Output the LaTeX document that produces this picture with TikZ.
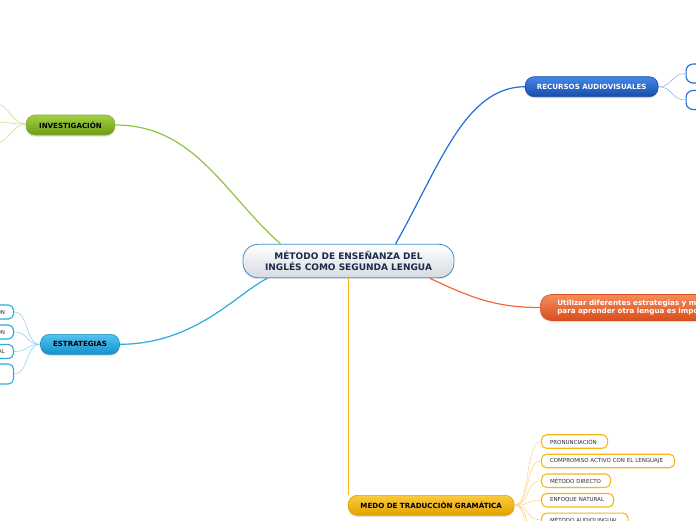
\documentclass[tikz,border=0pt]{standalone}
\usepackage{fontspec}
\setmainfont{DejaVu Sans}
\usetikzlibrary{shadows,calc}
\definecolor{grA}{HTML}{A2D044}\definecolor{grB}{HTML}{6C9C12}\definecolor{grL}{HTML}{8DC63F}\definecolor{grC}{HTML}{C8E28E}
\definecolor{skA}{HTML}{52C4F0}\definecolor{skB}{HTML}{1690CC}\definecolor{skL}{HTML}{29ABE2}\definecolor{skC}{HTML}{93D5F1}
\definecolor{buA}{HTML}{4388E8}\definecolor{buB}{HTML}{174CAA}\definecolor{buL}{HTML}{1D6ED8}\definecolor{buC}{HTML}{92B7EB}
\definecolor{orA}{HTML}{F58C5E}\definecolor{orB}{HTML}{D84F1C}\definecolor{orL}{HTML}{F26B3A}
\definecolor{goA}{HTML}{FBCB3E}\definecolor{goB}{HTML}{E2A200}\definecolor{goL}{HTML}{F7B718}\definecolor{goC}{HTML}{FCDA8C}
\definecolor{cnB}{HTML}{D5DBE1}\definecolor{cnD}{HTML}{3D8FD1}\definecolor{cnT}{HTML}{1B2B4B}
\begin{document}
\begin{tikzpicture}[x=1pt,y=-1pt,
  mainbox/.style={rounded corners=9pt, draw, line width=0.6pt, inner sep=0pt,
    minimum height=20pt, font=\bfseries\fontsize{7.1}{8}\selectfont,
    drop shadow={shadow xshift=0pt, shadow yshift=-1.5pt, opacity=0.25}},
  leafbox/.style={rounded corners=5pt, draw, line width=1.1pt, fill=white, inner sep=0pt,
    font=\fontsize{5.5}{6.5}\selectfont, text=black!82},
  goldleaf/.style={leafbox, draw=goL, anchor=west, minimum height=13.5pt, align=left, inner xsep=8.5pt},
  skyleaf/.style={leafbox, draw=skL, anchor=east, minimum width=40pt, minimum height=14pt,
    align=right, text width=28pt, inner xsep=8.5pt},
  mainline/.style={line width=1.2pt},
  leafline/.style={line width=0.6pt}]
\useasboundingbox (0,0) rectangle (696,520);
\clip (0,0) rectangle (696,520);
\fill[white] (0,0) rectangle (696,520);

\node[rounded corners=15pt, draw=cnD, line width=0.8pt, top color=white, bottom color=cnB,
  minimum width=211pt, minimum height=33.4pt, inner sep=0pt, align=center, text=cnT,
  font=\bfseries\fontsize{9}{10.6}\selectfont,
  drop shadow={shadow xshift=0pt, shadow yshift=-1.5pt, opacity=0.2}]
  (c) at (348.5,261) {MÉTODO DE ENSEÑANZA DEL\\INGLÉS COMO SEGUNDA LENGUA};

\node[mainbox, draw=grB!80, top color=grA, bottom color=grB, minimum width=89pt, text=black]
  (inv) at (70.5,125) {INVESTIGACIÓN};
\node[mainbox, draw=skB, top color=skA, bottom color=skB, minimum width=79pt, text=black]
  (est) at (80,344.3) {ESTRATEGIAS};
\node[mainbox, draw=buB, top color=buA, bottom color=buB, minimum width=133pt, text=white]
  (rec) at (591.7,86.7) {RECURSOS AUDIOVISUALES};
\node[mainbox, draw=orB, top color=orA, bottom color=orB, minimum width=220pt,
  minimum height=26pt, rounded corners=11pt, anchor=west, text=white, align=left,
  text width=200pt, inner xsep=17pt, font=\bfseries\fontsize{7.2}{8}\selectfont]
  (uti) at (540,307.5) {Utilizar diferentes estrategias y métodos\\para aprender otra lengua es importante};
\node[mainbox, draw=goB, top color=goA, bottom color=goB, minimum width=166pt, text=black]
  (med) at (431.2,505.3) {MEDO DE TRADUCCIÓN GRAMÁTICA};

\draw[mainline, grL] (inv.east) .. controls (195,125) and (225,195) .. ($(c.north west)+(38,0)$);
\draw[mainline, skL] (est.east) .. controls (195,344) and (235,295) .. ($(c.south west)+(25,0)$);
\draw[mainline, buL] (rec.west) .. controls (465,87) and (440,165) .. ($(c.north west)+(153,0)$);
\draw[mainline, orL] ($(c.south west)+(187,0)$) .. controls (475,300) and (500,307.5) .. (uti.west);
\draw[mainline, goL] (c.south) -- (c.south |- med.north);

\coordinate (i1) at (-6,103);
\coordinate (i2) at (-6,122);
\coordinate (i3) at (-6,144);
\coordinate (ij) at (26,124);
\foreach \k in {i1,i2,i3}
  \draw[leafline, grC] (ij) .. controls +(-14,0) and +(14,0) .. (\k);

\node[skyleaf] (e1) at (14,312) {ÓN};
\node[skyleaf] (e2) at (14,332) {ÓN};
\node[skyleaf] (e3) at (14,351.5) {AL};
\node[leafbox, draw=skL, anchor=east, minimum width=40pt, minimum height=20pt] (e4) at (14,374) {};
\foreach \k in {e1,e2,e3,e4}
  \draw[leafline, skC] (est.west) .. controls +(-15,0) and +(15,0) .. (\k.east);

\node[leafbox, draw=buL, anchor=west, minimum width=40pt, minimum height=19pt, rounded corners=7pt] (r1) at (685.5,73.5) {};
\node[leafbox, draw=buL, anchor=west, minimum width=40pt, minimum height=19pt, rounded corners=7pt] (r2) at (685.5,100) {};
\foreach \k in {r1,r2}
  \draw[leafline, buC] (rec.east) .. controls +(14,0) and +(-14,0) .. (\k.west);

\node[goldleaf, minimum width=66pt, text width=49pt] (g1) at (541,441.5) {\mbox{PRONUNCIACIÓN}};
\node[goldleaf, minimum width=133pt, text width=116pt] (g2) at (541,461) {\mbox{COMPROMISO ACTIVO CON EL LENGUAJE}};
\node[goldleaf, minimum width=69pt, text width=52pt] (g3) at (541,480.7) {\mbox{MÉTODO DIRECTO}};
\node[goldleaf, minimum width=72pt, text width=55pt] (g4) at (541,500.2) {\mbox{ENFOQUE NATURAL}};
\node[goldleaf, minimum width=86.5pt, text width=69.5pt] (g5) at (541,519.8) {\mbox{MÉTODO AUDIOLINGUAL}};
\coordinate (g6) at (541,540);
\coordinate (g7) at (541,560);
\foreach \k in {g1,g2,g3,g4,g5}
  \draw[leafline, goC] (med.east) .. controls +(16,0) and +(-16,0) .. (\k.west);
\foreach \k in {g6,g7}
  \draw[leafline, goC] (med.east) .. controls +(16,0) and +(-16,0) .. (\k);
\end{tikzpicture}
\end{document}
